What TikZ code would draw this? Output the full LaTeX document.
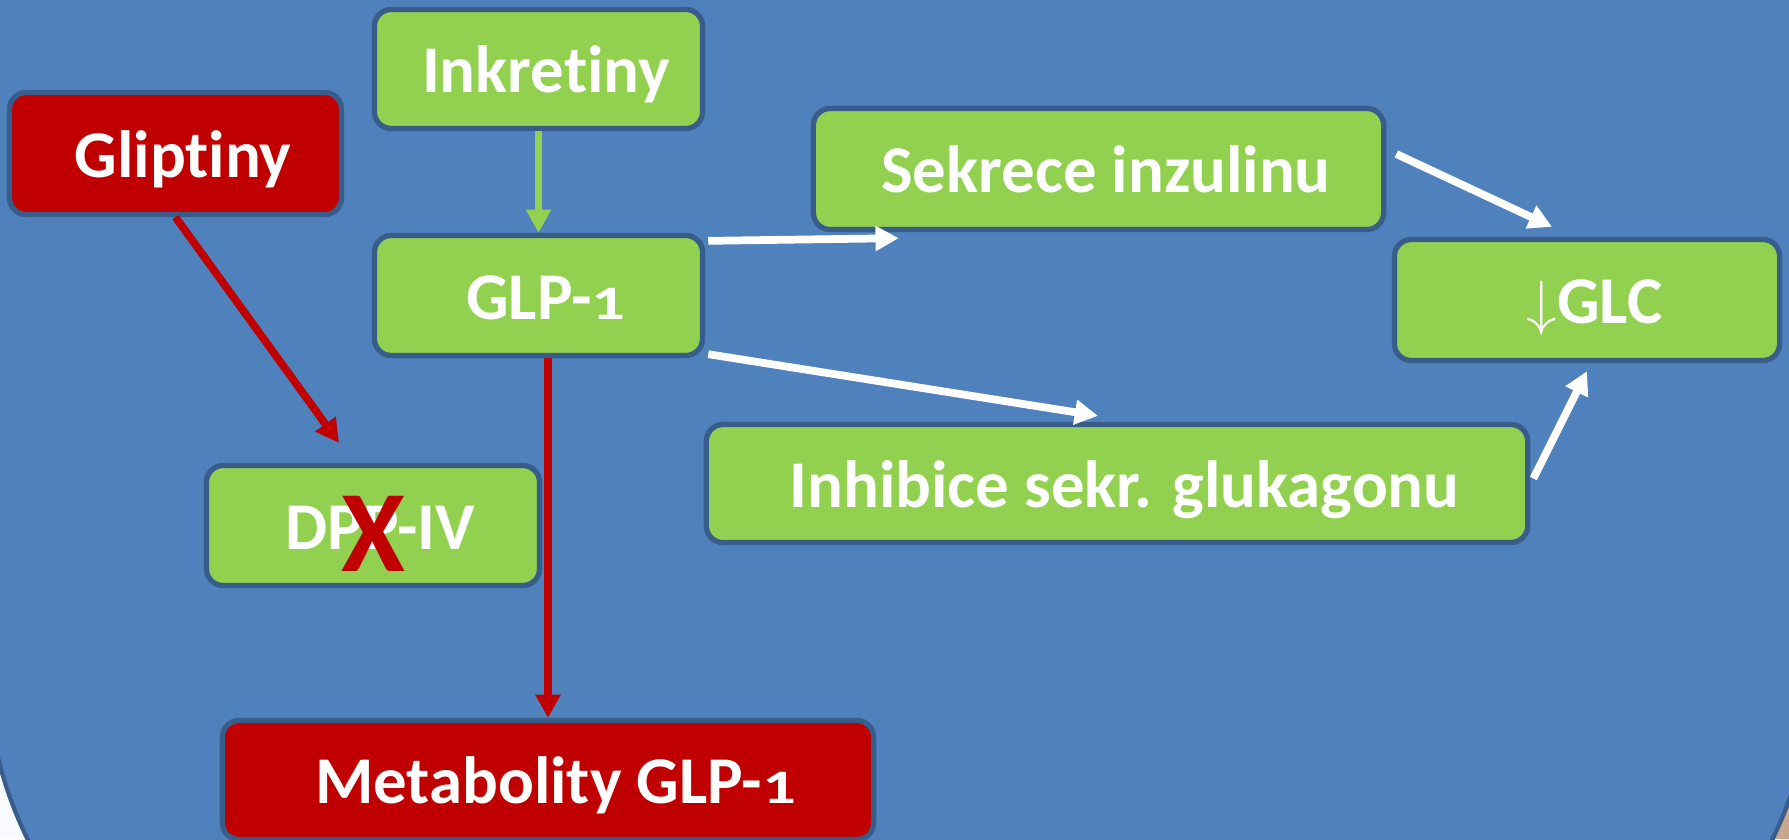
\documentclass[tikz,border=0pt]{standalone}
\usepackage{fontspec}
\setmainfont{Carlito}[Ligatures=NoCommon]
\usetikzlibrary{arrows.meta,calc}
\definecolor{slide}{HTML}{4F81BD}
\definecolor{edge}{HTML}{385D8A}
\definecolor{leaf}{HTML}{92D050}
\definecolor{blood}{HTML}{C00000}
\definecolor{sand}{HTML}{C9A68B}
\newcommand{\lowone}{\scalebox{1}[0.72]{1}}
\begin{document}
\begin{tikzpicture}[x=0.01cm, y=-0.01cm,
	box/.style={draw=edge, line width=1.5pt, rounded corners=4.8pt, inner sep=0pt, text=white,
		font=\bfseries\fontsize{19}{23}\selectfont, text height=13.4pt, text depth=0pt,
		execute at begin node=\hspace*{0.15cm}},
	wline/.style={white, line width=2.2pt, -{Triangle[length=6.6pt,width=6.8pt]}},
	rline/.style={blood, line width=2.2pt, -{Triangle[length=6.6pt,width=6.8pt]}},
	gline/.style={leaf, line width=2.2pt, -{Triangle[length=6.6pt,width=6.8pt]}}]
	\useasboundingbox (0,0) rectangle (1789,839);
	\fill[white!96!slide] (0,0) rectangle (1789,839);
	\fill[sand] (1700,839) -- (1789,839) -- (1789,740) -- cycle;
	\draw[edge, fill=slide, line width=1.2pt, rounded corners=4.11cm] (-14,-500) -- (-14,1070) -- (1814,1070) -- (1814,-500) -- cycle;
	% boxes
	\node[box, fill=leaf, minimum width=3.28cm, minimum height=1.19cm] (ink) at (538.5,69) {Inkretiny};
	\node[box, fill=blood, minimum width=3.32cm, minimum height=1.22cm] (glip) at (175.5,153.5) {Gliptiny};
	\node[box, fill=leaf, minimum width=3.28cm, minimum height=1.2cm] (glp) at (538.5,295.5) {GLP-\lowone};
	\node[box, fill=leaf, minimum width=5.7cm, minimum height=1.21cm] (sek) at (1098.5,169) {Sekrece inzulinu};
	\node[box, fill=leaf, minimum width=3.85cm, minimum height=1.21cm] (glc) at (1587,300) {\normalfont$\downarrow$\bfseries GLC};
	\node[box, fill=leaf, minimum width=8.21cm, minimum height=1.18cm] (inh) at (1117,483.5) {Inhibice sekr. glukagonu};
	\node[box, fill=leaf, minimum width=3.33cm, minimum height=1.2cm] (dpp) at (373,525.5) {DPP-IV};
	\node[box, fill=blood, minimum width=6.51cm, minimum height=1.19cm] (metab) at (548,780) {Metabolity GLP-\lowone};
	\node[blood, anchor=base, inner sep=0pt, font=\bfseries\fontsize{33}{36}\selectfont] (cross) at ($(dpp.south)+(0,-17)$) {X};
	% connectors
	\draw[gline] (ink.south) -- (glp.north);
	\draw[rline] (glip.south) -- ($(dpp.north)+(-34,-20)$);
	\draw[rline] (metab.north |- glp.south) -- (metab.north);
	\draw[wline] ($(glp.north east)+(3,8)$) -- ($(sek.south west)+(88,6)$);
	\draw[wline] ($(glp.south east)+(3,-4)$) -- ($(inh.north)+(-19,-6)$);
	\draw[wline] ($(sek.east)+(10,-15)$) -- ($(glc.north)+(-35,-10)$);
	\draw[wline] ($(inh.east)+(3,-5)$) -- ($(glc.south)+(0,8)$);
\end{tikzpicture}
\end{document}
